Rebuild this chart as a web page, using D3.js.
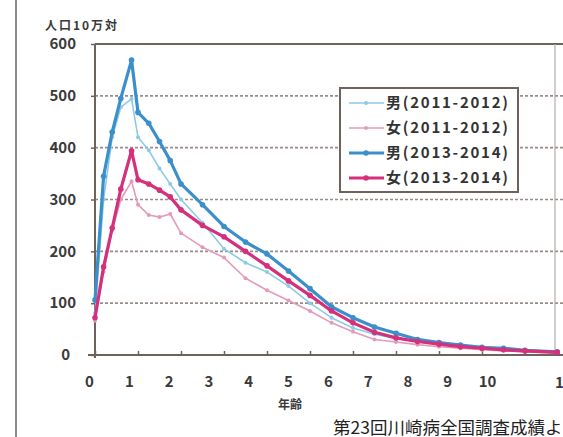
<!DOCTYPE html>
<html>
<head>
<meta charset="utf-8">
<script src="https://cdn.jsdelivr.net/npm/d3@7"></script>
<style>
  html, body { margin: 0; padding: 0; background: #fff; overflow: hidden; }
  svg { display: block; }
</style>
</head>
<body>
<script>
'use strict';

// age in years
var ages = [0, 0.2, 0.4, 0.6, 0.85, 1.0, 1.25, 1.5, 1.75, 2, 2.5, 3, 3.5, 4, 4.5, 5, 5.5, 6, 6.5, 7, 7.5, 8, 8.5, 9, 9.5, 10, 10.75];

var male2011 = [80, 300, 420, 478, 494, 420, 395, 360, 330, 300, 255, 205, 178, 160, 133, 100, 72, 52, 40, 32, 26, 22, 18, 15, 12, 9, 6];
var female2011 = [66, 160, 240, 300, 335, 290, 270, 266, 272, 235, 208, 188, 148, 125, 105, 85, 62, 45, 30, 25, 20, 16, 13, 10, 8, 6, 4];
var male2013 = [106, 345, 430, 495, 569, 468, 447, 412, 375, 330, 290, 248, 218, 195, 162, 128, 93, 72, 54, 42, 30, 24, 19, 15, 13, 9, 6];
var female2013 = [72, 170, 245, 320, 394, 338, 330, 318, 305, 280, 250, 228, 200, 172, 143, 115, 85, 62, 44, 33, 26, 21, 16, 13, 10, 8, 5];

var seriesNames = ["男(2011-2012)", "女(2011-2012)", "男(2013-2014)", "女(2013-2014)"];
var yTicks = [0, 100, 200, 300, 400, 500, 600];
var xTicks = [0, 1, 2, 3, 4, 5, 6, 7, 8, 9, 10, 11];
var xLabels = [0, 1, 2, 3, 4, 5, 6, 7, 8, 9, 10];

var W = 563, H = 437;
var font = "'Noto Sans CJK JP', 'Noto Sans', sans-serif";
var ink = "#3a3a3a";

var svg = d3.select("body").append("svg")
   .attr("width", W)
   .attr("height", H);

var x = d3.scaleLinear().domain([0, 11]).range([95, 568]);
var y = d3.scaleLinear().domain([0, 600]).range([355, 44]);
// the printed age labels sit a little off the tick marks
var xl = d3.scaleLinear().domain([0, 10]).range([89, 487]);

// left edge of the scanned page
svg.append("line")
   .attr("x1", 16).attr("x2", 16).attr("y1", 0).attr("y2", H)
   .attr("stroke", "#8c8c8c").attr("stroke-width", 2);

// grid
svg.selectAll("line.grid")
   .data(yTicks.filter(function(d){ return d > 0 && d < 600; }))
   .enter().append("line")
   .attr("class", "grid")
   .attr("x1", x(0)).attr("x2", W)
   .attr("y1", function(d){ return y(d); })
   .attr("y2", function(d){ return y(d); })
   .attr("stroke", "#9a8d88")
   .attr("stroke-width", 1.6)
   .attr("stroke-dasharray", "3,2");

// frame: top line, right border
svg.append("line")
   .attr("x1", x(0)).attr("x2", W).attr("y1", y(600)).attr("y2", y(600))
   .attr("stroke", "#6e625d").attr("stroke-width", 2.2);
svg.append("line")
   .attr("x1", 555).attr("x2", 555).attr("y1", y(600)).attr("y2", y(0))
   .attr("stroke", "#b5aca8").attr("stroke-width", 1.2);

// x axis: tick marks
var xAxis = d3.axisBottom(x).tickValues(xTicks).tickSize(-4).tickFormat("");
var gx = svg.append("g").attr("transform", "translate(0," + y(0) + ")").call(xAxis);
gx.select(".domain").attr("stroke", "#6e625d").attr("stroke-width", 2).attr("d", "M88,0H" + W);
gx.selectAll(".tick line").attr("stroke", "#6e625d").attr("stroke-width", 1.5);

// x axis: labels
var xLabAxis = d3.axisBottom(xl).tickValues(xLabels).tickSize(0).tickPadding(21).tickFormat(d3.format("d"));
var gxl = svg.append("g").attr("transform", "translate(0," + y(0) + ")").call(xLabAxis);
gxl.select(".domain").remove();
gxl.selectAll(".tick text")
   .style("font-family", font).style("font-weight", 700).style("font-size", "15px")
   .attr("fill", ink);
// last label, cut by the page edge
svg.append("text")
   .attr("x", 555).attr("y", 388)
   .style("font-family", font).style("font-weight", 700).style("font-size", "15px")
   .attr("fill", ink)
   .text("11");

var yAxis = d3.axisLeft(y).tickValues(yTicks).tickSize(4).tickPadding(15);
var gy = svg.append("g").attr("transform", "translate(" + x(0) + ",0)").call(yAxis);
gy.select(".domain").attr("stroke", "#6e625d").attr("stroke-width", 2).attr("d", "M0,44V358");
gy.selectAll(".tick line").attr("stroke", "#6e625d").attr("stroke-width", 1.5);
gy.selectAll(".tick text")
   .style("font-family", font).style("font-weight", 700).style("font-size", "15px")
   .attr("fill", ink)
   .attr("dx", function(d){ return d === 0 ? -6 : 0; });

// unit + axis title
svg.append("text")
   .attr("x", 45).attr("y", 30)
   .attr("textLength", 72)
   .style("font-family", font).style("font-weight", 700).style("font-size", "12px")
   .attr("fill", ink)
   .text("人口10万対");

svg.append("text")
   .attr("x", xl(5) + 2).attr("y", 409)
   .attr("text-anchor", "middle")
   .style("font-family", font).style("font-weight", 700).style("font-size", "12px")
   .attr("fill", ink)
   .text("年齢");

svg.append("text")
   .attr("x", 333).attr("y", 434)
   .style("font-family", font).style("font-size", "17.5px")
   .attr("fill", "#222")
   .text("第23回川崎病全国調査成績より");

// lines
var series = [
   {name: seriesNames[0], values: male2011, color: "#8ccbe6", width: 1.6, r: 2},
   {name: seriesNames[1], values: female2011, color: "#e59abb", width: 1.6, r: 2},
   {name: seriesNames[2], values: male2013, color: "#3b8fcb", width: 3.2, r: 2.8},
   {name: seriesNames[3], values: female2013, color: "#d4307c", width: 3.2, r: 2.8}
];

var lineFunction = d3.line()
   .x(function(d){ return x(d[0]); })
   .y(function(d){ return y(d[1]); });

series.forEach(function(s){
   var pts = ages.map(function(a, i){ return [a, s.values[i]]; });
   svg.append("path")
      .attr("d", lineFunction(pts))
      .attr("fill", "none")
      .attr("stroke", s.color)
      .attr("stroke-width", s.width)
      .attr("stroke-linejoin", "round");
   svg.append("g").selectAll("circle")
      .data(pts)
      .enter().append("circle")
      .attr("cx", function(d){ return x(d[0]); })
      .attr("cy", function(d){ return y(d[1]); })
      .attr("r", s.r)
      .attr("fill", s.color);
});

// legend
var lg = svg.append("g");
lg.append("rect")
   .attr("x", 340).attr("y", 88).attr("width", 178).attr("height", 104)
   .attr("fill", "#fff")
   .attr("stroke", "#6e625d").attr("stroke-width", 2);

series.forEach(function(s, i){
   var ry = 103 + i * 25;
   lg.append("line")
      .attr("x1", 349).attr("x2", 384).attr("y1", ry).attr("y2", ry)
      .attr("stroke", s.color).attr("stroke-width", s.width);
   lg.append("circle")
      .attr("cx", 366).attr("cy", ry).attr("r", s.r)
      .attr("fill", s.color);
   lg.append("text")
      .attr("x", 386).attr("y", ry + 5)
      .attr("textLength", 122)
      .style("font-family", font).style("font-weight", 700).style("font-size", "15px")
      .attr("fill", "#333")
      .text(s.name);
});
</script>
</body>
</html>
